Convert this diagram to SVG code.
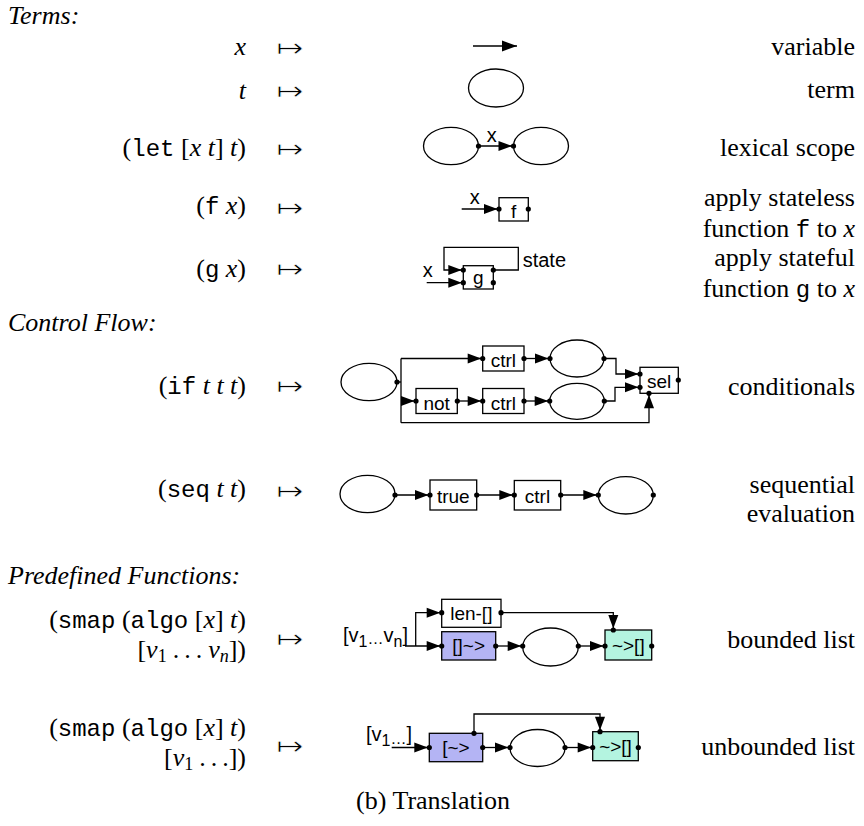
<svg xmlns="http://www.w3.org/2000/svg" width="864" height="826" viewBox="0 0 864 826">
<defs>
<marker id="ah" markerUnits="userSpaceOnUse" markerWidth="15" markerHeight="11" refX="15" refY="5" orient="auto" overflow="visible"><path d="M0,0 L13.5,5 L0,10 z" fill="#000"/></marker>
<marker id="ahL" markerUnits="userSpaceOnUse" markerWidth="15" markerHeight="11" refX="15" refY="5.5" orient="auto" overflow="visible"><path d="M0,0 L15,5.5 L0,11 z" fill="#000"/></marker>
</defs>
<style>
.w{fill:none;stroke:#000;stroke-width:1.3}
.c{fill:none;stroke:#000;stroke-width:1.3;marker-end:url(#ah)}
.b{fill:#fff;stroke:#000;stroke-width:1.3}
.blue{fill:#b4b4f4}
.green{fill:#b4f4e0}
.e{fill:none;stroke:#000;stroke-width:1.3}
.p{fill:#000}
.lab{font-family:"Liberation Sans",Arial,sans-serif;font-size:19px;text-anchor:middle;fill:#000}
.fl{font-family:"Liberation Sans",Arial,sans-serif;font-size:20px;fill:#000}
.s{font-family:"Liberation Serif","Times New Roman",serif;font-size:26px;fill:#000}
.r{text-anchor:end}
.i{font-style:italic}
.m{font-family:"Liberation Mono","Courier New",monospace;font-size:24px;font-style:normal}
.mt{font-family:"DejaVu Sans",sans-serif;font-size:26px;fill:#000;stroke:#fff;stroke-width:0.7px}
</style>

<!-- headings and left column -->
<g id="left-text">
<text x="8" y="24" class="s i">Terms:</text>
<text x="246" y="55" class="s r i">x</text>
<text x="246" y="99" class="s r i">t</text>
<text x="246" y="156" class="s r">(<tspan class="m">let</tspan> [<tspan class="i">x</tspan> <tspan class="i">t</tspan>] <tspan class="i">t</tspan>)</text>
<text x="246" y="214" class="s r">(<tspan class="m">f</tspan> <tspan class="i">x</tspan>)</text>
<text x="246" y="277" class="s r">(<tspan class="m">g</tspan> <tspan class="i">x</tspan>)</text>
<text x="8" y="331" class="s i">Control Flow:</text>
<text x="246" y="394" class="s r">(<tspan class="m">if</tspan> <tspan class="i">t t t</tspan>)</text>
<text x="246" y="497" class="s r">(<tspan class="m">seq</tspan> <tspan class="i">t t</tspan>)</text>
<text x="8" y="584" class="s i">Predefined Functions:</text>
<text x="246" y="628" class="s r">(<tspan class="m">smap</tspan> (<tspan class="m">algo</tspan> [<tspan class="i">x</tspan>] <tspan class="i">t</tspan>)</text>
<text x="246" y="658" class="s r">[<tspan class="i">v</tspan><tspan font-size="18" dy="4">1</tspan><tspan dy="-4" dx="6">.</tspan><tspan dx="5">.</tspan><tspan dx="5">.</tspan><tspan class="i" dx="6">v</tspan><tspan class="i" font-size="18" dy="4">n</tspan><tspan dy="-4">])</tspan></text>
<text x="246" y="736" class="s r">(<tspan class="m">smap</tspan> (<tspan class="m">algo</tspan> [<tspan class="i">x</tspan>] <tspan class="i">t</tspan>)</text>
<text x="246" y="766" class="s r">[<tspan class="i">v</tspan><tspan font-size="18" dy="4">1</tspan><tspan dy="-4" dx="6">.</tspan><tspan dx="5">.</tspan><tspan dx="5">.</tspan>])</text>
</g>

<g id="mapsto">
<text transform="translate(276,57) scale(1.25,1)" class="mt">↦</text>
<text transform="translate(276,100) scale(1.25,1)" class="mt">↦</text>
<text transform="translate(276,158) scale(1.25,1)" class="mt">↦</text>
<text transform="translate(276,217) scale(1.25,1)" class="mt">↦</text>
<text transform="translate(276,278) scale(1.25,1)" class="mt">↦</text>
<text transform="translate(276,395) scale(1.25,1)" class="mt">↦</text>
<text transform="translate(276,500) scale(1.25,1)" class="mt">↦</text>
<text transform="translate(276,648) scale(1.25,1)" class="mt">↦</text>
<text transform="translate(276,755) scale(1.25,1)" class="mt">↦</text>
</g>

<g id="right-text">
<text x="855" y="55" class="s r">variable</text>
<text x="855" y="98" class="s r">term</text>
<text x="855" y="156" class="s r">lexical scope</text>
<text x="855" y="206" class="s r">apply stateless</text>
<text x="855" y="237" class="s r">function <tspan class="m">f</tspan> to <tspan class="i">x</tspan></text>
<text x="855" y="266" class="s r">apply stateful</text>
<text x="855" y="297" class="s r">function <tspan class="m">g</tspan> to <tspan class="i">x</tspan></text>
<text x="855" y="395" class="s r">conditionals</text>
<text x="855" y="493" class="s r">sequential</text>
<text x="855" y="522" class="s r">evaluation</text>
<text x="855" y="648" class="s r">bounded list</text>
<text x="855" y="755" class="s r">unbounded list</text>
<text x="433" y="809" class="s" text-anchor="middle">(b) Translation</text>
</g>

<!-- connectors -->
<g id="connectors">
<line x1="473" y1="46" x2="517" y2="46" class="w" marker-end="url(#ahL)"/>
<line x1="478.5" y1="146" x2="513.5" y2="146" class="c"/>
<line x1="461.7" y1="209" x2="499" y2="209" class="c"/>
<polyline points="493.3,270 518.3,270 518.3,247.3 444,247.3 444,270 463.3,270" class="c"/>
<line x1="426.7" y1="282.7" x2="463.3" y2="282.7" class="c"/>
<!-- if -->
<line x1="397" y1="382" x2="401" y2="382" class="w"/>
<line x1="401" y1="358.5" x2="401" y2="422.7" class="w"/>
<line x1="401" y1="358.5" x2="482.7" y2="358.5" class="c"/>
<line x1="524" y1="358.5" x2="550" y2="358.5" class="c"/>
<polyline points="604,358.5 616,358.5 616,374 640,374" class="c"/>
<line x1="401" y1="401" x2="416" y2="401" class="c"/>
<line x1="457.3" y1="401" x2="482.7" y2="401" class="c"/>
<line x1="524" y1="401" x2="549.7" y2="401" class="c"/>
<polyline points="604.3,401 615,401 615,387.3 640,387.3" class="c"/>
<polyline points="401,422.7 649,422.7 649,393.3" class="c"/>
<!-- seq -->
<line x1="395" y1="495" x2="430" y2="495" class="c"/>
<line x1="476.7" y1="495" x2="514.3" y2="495" class="c"/>
<line x1="560.7" y1="495" x2="598.3" y2="495" class="c"/>
<!-- smap bounded -->
<line x1="405" y1="646" x2="441.7" y2="646" class="c"/>
<polyline points="415.7,646 415.7,612.7 441.7,612.7" class="c"/>
<polyline points="501,612.7 613.3,612.7 613.3,630" class="c"/>
<line x1="495.7" y1="646" x2="522.7" y2="646" class="c"/>
<line x1="578.3" y1="646" x2="605" y2="646" class="c"/>
<!-- smap unbounded -->
<line x1="391.7" y1="747.5" x2="429.3" y2="747.5" class="c"/>
<polyline points="474,733.3 474,714 600,714 600,731.7" class="c"/>
<line x1="482.7" y1="747.5" x2="510" y2="747.5" class="c"/>
<line x1="565" y1="747.5" x2="592.7" y2="747.5" class="c"/>
</g>

<!-- nodes -->
<g id="term-t"><ellipse cx="496" cy="88" rx="27.5" ry="19" class="e"/></g>
<g id="let-t1"><ellipse cx="451" cy="146" rx="27.5" ry="18.7" class="e"/><circle cx="478.5" cy="146" r="2.6" class="p"/></g>
<g id="let-t2"><ellipse cx="541" cy="146" rx="27.5" ry="18.7" class="e"/><circle cx="513.5" cy="146" r="2.6" class="p"/></g>
<g id="let-x"><text x="491.7" y="141.5" class="fl" text-anchor="middle">x</text></g>

<g id="f-node"><text x="474.7" y="204" class="fl" text-anchor="middle">x</text>
<rect x="499" y="197.7" width="29.3" height="23.3" class="b"/><text x="513.7" y="218" class="lab">f</text>
<circle cx="499" cy="209" r="2.6" class="p"/><circle cx="528.3" cy="209" r="2.6" class="p"/></g>

<g id="g-node"><text x="427.7" y="277" class="fl" text-anchor="middle">x</text>
<rect x="463.3" y="265.7" width="30" height="23.3" class="b"/><text x="478.3" y="283.5" class="lab">g</text>
<circle cx="463.3" cy="270" r="2.6" class="p"/><circle cx="463.3" cy="282.7" r="2.6" class="p"/>
<circle cx="493.3" cy="270" r="2.6" class="p"/><circle cx="493.3" cy="282.7" r="2.6" class="p"/>
<text x="522.7" y="266.7" class="fl">state</text></g>

<g id="if-t"><ellipse cx="369" cy="382" rx="28" ry="18.7" class="e"/><circle cx="397" cy="382" r="2.6" class="p"/></g>
<g id="if-ctrl1"><rect x="482.7" y="346" width="41.3" height="25" class="b"/><text x="503.3" y="366.5" class="lab">ctrl</text>
<circle cx="482.7" cy="358.5" r="2.6" class="p"/><circle cx="524" cy="358.5" r="2.6" class="p"/></g>
<g id="if-t1"><ellipse cx="577" cy="358.5" rx="27" ry="18.5" class="e"/><circle cx="550" cy="358.5" r="2.6" class="p"/><circle cx="604" cy="358.5" r="2.6" class="p"/></g>
<g id="if-not"><rect x="416" y="388.5" width="41.3" height="25" class="b"/><text x="436.7" y="409.5" class="lab">not</text>
<circle cx="416" cy="401" r="2.6" class="p"/><circle cx="457.3" cy="401" r="2.6" class="p"/></g>
<g id="if-ctrl2"><rect x="482.7" y="388.5" width="41.3" height="25" class="b"/><text x="503.3" y="409.5" class="lab">ctrl</text>
<circle cx="482.7" cy="401" r="2.6" class="p"/><circle cx="524" cy="401" r="2.6" class="p"/></g>
<g id="if-t2"><ellipse cx="577" cy="401.3" rx="27.3" ry="18" class="e"/><circle cx="549.7" cy="401" r="2.6" class="p"/><circle cx="604.3" cy="401" r="2.6" class="p"/></g>
<g id="if-sel"><rect x="640" y="367.3" width="38.3" height="26" class="b"/><text x="659.2" y="388" class="lab">sel</text>
<circle cx="640" cy="374" r="2.6" class="p"/><circle cx="640" cy="387.3" r="2.6" class="p"/>
<circle cx="678.3" cy="380" r="2.6" class="p"/><circle cx="649" cy="393.3" r="2.6" class="p"/></g>

<g id="seq-t1"><ellipse cx="367.5" cy="494" rx="27.5" ry="18.7" class="e"/><circle cx="395" cy="495" r="2.6" class="p"/></g>
<g id="seq-true"><rect x="430" y="480" width="46.7" height="30" class="b"/><text x="453.3" y="502.5" class="lab">true</text>
<circle cx="430" cy="495" r="2.6" class="p"/><circle cx="476.7" cy="495" r="2.6" class="p"/></g>
<g id="seq-ctrl"><rect x="514.3" y="480.5" width="46.4" height="29.5" class="b"/><text x="537.5" y="503" class="lab">ctrl</text>
<circle cx="514.3" cy="495" r="2.6" class="p"/><circle cx="560.7" cy="495" r="2.6" class="p"/></g>
<g id="seq-t2"><ellipse cx="625.8" cy="495.3" rx="27.5" ry="18.7" class="e"/><circle cx="598.3" cy="495" r="2.6" class="p"/><circle cx="653.3" cy="495" r="2.6" class="p"/></g>

<g id="bl-input"><text x="343" y="641.5" class="fl">[v<tspan font-size="16" dy="5">1</tspan><tspan font-size="16" dy="-2.5">…</tspan><tspan dy="-2.5">v</tspan><tspan font-size="16" dy="5">n</tspan><tspan dy="-5">]</tspan></text></g>
<g id="bl-len"><rect x="441.7" y="599.3" width="59.3" height="28" class="b"/><text x="471.3" y="619.5" class="lab">len-[]</text>
<circle cx="441.7" cy="612.7" r="2.6" class="p"/><circle cx="501" cy="612.7" r="2.6" class="p"/></g>
<g id="bl-split"><rect x="441.7" y="631.7" width="54" height="28.3" class="b blue"/><text x="468.7" y="652" class="lab">[]~&gt;</text>
<circle cx="441.7" cy="646" r="2.6" class="p"/><circle cx="495.7" cy="646" r="2.6" class="p"/></g>
<g id="bl-t"><ellipse cx="550.5" cy="647" rx="27.8" ry="19" class="e"/><circle cx="522.7" cy="646" r="2.6" class="p"/><circle cx="578.3" cy="646" r="2.6" class="p"/></g>
<g id="bl-join"><rect x="605" y="630" width="46.7" height="30" class="b green"/><text x="628.3" y="652" class="lab">~&gt;[]</text>
<circle cx="605" cy="646" r="2.6" class="p"/><circle cx="651.7" cy="646" r="2.6" class="p"/><circle cx="613.3" cy="630" r="2.6" class="p"/></g>

<g id="ul-input"><text x="366" y="741" class="fl">[v<tspan font-size="16" dy="5">1</tspan><tspan font-size="16" dy="-2.5">…</tspan><tspan dy="-2.5">]</tspan></text></g>
<g id="ul-split"><rect x="429.3" y="733.3" width="53.4" height="28.4" class="b blue"/><text x="456" y="754" class="lab">[~&gt;</text>
<circle cx="429.3" cy="747.5" r="2.6" class="p"/><circle cx="482.7" cy="747.5" r="2.6" class="p"/><circle cx="474" cy="733.3" r="2.6" class="p"/></g>
<g id="ul-t"><ellipse cx="537.5" cy="748" rx="27.5" ry="18.5" class="e"/><circle cx="510" cy="747.5" r="2.6" class="p"/><circle cx="565" cy="747.5" r="2.6" class="p"/></g>
<g id="ul-join"><rect x="592.7" y="731.7" width="45.6" height="29" class="b green"/><text x="615.5" y="753" class="lab">~&gt;[]</text>
<circle cx="592.7" cy="747.5" r="2.6" class="p"/><circle cx="638.3" cy="747.5" r="2.6" class="p"/><circle cx="600" cy="731.7" r="2.6" class="p"/></g>
</svg>
